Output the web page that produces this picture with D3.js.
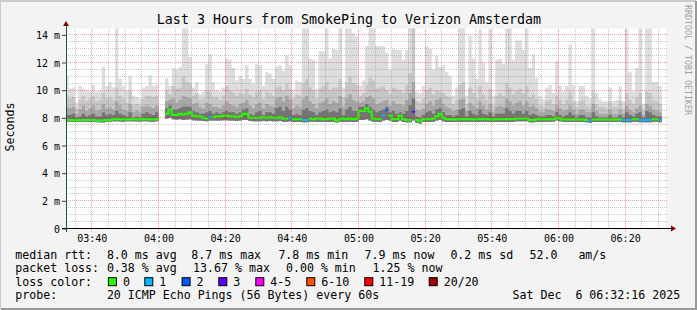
<!DOCTYPE html>
<html>
<head>
<meta charset="utf-8">
<script src="https://cdn.jsdelivr.net/npm/d3@7"></script>
<style>
    body { margin: 0; background: #f3f3f3; }
    svg { display: block; }
    text { font-family: "DejaVu Sans Mono", monospace; fill: #000; white-space: pre; }
</style>
</head>
<body>
<svg id="graph" width="697" height="310"></svg>
<script>
// one value per 1-minute step, first step starts 03:32, no data 04:00-04:02
const medianRtt = [
    7.85, 7.85, 7.83, 7.83, 7.85, 7.85, 7.85, 7.85, 7.85, 7.8,
    7.8, 7.8, 7.85, 7.85, 7.9, 7.9, 7.88, 7.88, 7.9, 7.9,
    7.9, 7.9, 7.88, 7.9, 7.9, 7.88, 7.88, 7.9, null, null,
    8.3, 8.6, 8.2, 8.2, 8.3, 8.25, 8.3, 8.4, 8.15, 8.1,
    8.1, 8.0, 7.95, 8.05, 8.05, 8.1, 8.1, 8.15, 8.15, 8.1,
    8.1, 8.05, 8.1, 8.3, 8.3, 8.0, 8.0, 8.0, 8.0, 8.05,
    8.0, 8.05, 8.0, 8.0, 8.05, 7.95, 7.95, 8.0, 7.9, 7.9,
    7.9, 7.85, 7.85, 7.95, 7.9, 7.95, 7.95, 7.9, 7.9, 7.95,
    7.95, 7.8, 7.9, 7.95, 7.9, 7.95, 7.9, 7.95, 8.5, 8.5,
    8.7, 8.45, 7.95, 7.9, 7.9, 8.15, 8.55, 8.15, 7.9, 7.9,
    8.15, 7.9, 7.85, 7.85, 8.45, 7.85, 7.75, 7.9, 7.9, 7.9,
    7.95, 8.1, 8.3, 8.0, 7.9, 7.9, 7.88, 7.9, 7.9, 7.92,
    7.9, 7.9, 7.88, 7.9, 7.9, 7.92, 7.9, 7.9, 7.88, 7.9,
    7.9, 7.9, 7.92, 7.9, 7.9, 7.95, 7.95, 7.95, 7.95, 7.85,
    7.85, 7.9, 7.9, 7.9, 7.9, 7.9, 7.9, 8.0, 7.95, 7.88,
    7.88, 7.88, 7.88, 7.88, 7.88, 7.88, 7.85, 7.8, 7.88, 7.88,
    7.88, 7.88, 7.88, 7.88, 7.88, 7.88, 7.88, 7.85, 7.85, 7.85,
    7.9, 7.9, 7.85, 7.85, 7.85, 7.85, 7.9, 7.9, 7.85
];
const minPing = [
    7.72, 7.72, 7.7, 7.7, 7.72, 7.72, 7.72, 7.7, 7.72, 7.68,
    7.68, 7.66, 7.72, 7.72, 7.75, 7.75, 7.74, 7.72, 7.75, 7.75,
    7.75, 7.74, 7.72, 7.75, 7.75, 7.72, 7.72, 7.75, null, null,
    7.95, 8.0, 7.9, 7.88, 7.9, 7.85, 7.88, 7.9, 7.82, 7.8,
    7.8, 7.78, 7.75, 7.8, 7.8, 7.8, 7.8, 7.82, 7.82, 7.8,
    7.8, 7.78, 7.8, 7.85, 7.85, 7.78, 7.76, 7.76, 7.76, 7.78,
    7.76, 7.78, 7.76, 7.76, 7.78, 7.72, 7.72, 7.75, 7.7, 7.7,
    7.7, 7.68, 7.68, 7.72, 7.72, 7.7, 7.72, 7.72, 7.7, 7.7,
    7.72, 7.66, 7.7, 7.72, 7.7, 7.72, 7.7, 7.72, 7.85, 7.85,
    7.9, 7.8, 7.72, 7.7, 7.7, 7.8, 7.85, 7.8, 7.7, 7.7,
    7.8, 7.7, 7.68, 7.68, 7.8, 7.65, 7.6, 7.7, 7.7, 7.7,
    7.72, 7.8, 7.85, 7.75, 7.7, 7.7, 7.7, 7.7, 7.7, 7.72,
    7.7, 7.7, 7.7, 7.7, 7.7, 7.72, 7.7, 7.7, 7.7, 7.7,
    7.7, 7.7, 7.72, 7.7, 7.7, 7.75, 7.75, 7.75, 7.75, 7.68,
    7.68, 7.72, 7.72, 7.72, 7.72, 7.72, 7.72, 7.8, 7.75, 7.7,
    7.7, 7.7, 7.7, 7.7, 7.7, 7.7, 7.68, 7.65, 7.7, 7.7,
    7.7, 7.7, 7.7, 7.7, 7.7, 7.7, 7.7, 7.68, 7.68, 7.68,
    7.72, 7.72, 7.68, 7.68, 7.68, 7.68, 7.72, 7.72, 7.68
];
const maxPing = [
    11.0, 10.1, 10.2, 9.1, 10.3, 10.1, 10.0, 9.9, 10.4, 9.9,
    10.0, 11.7, 10.3, 10.6, 10.2, 14.6, 10.8, 10.3, 10.0, 11.0,
    9.6, 9.5, 9.4, 10.2, 10.3, 11.1, 10.3, 10.4, null, null,
    10.9, 10.3, 11.6, 11.5, 11.7, 14.6, 14.6, 12.4, 10.2, 10.6,
    9.7, 9.9, 11.9, 12.6, 10.6, 10.0, 9.9, 10.2, 12.3, 12.2,
    11.6, 10.7, 11.0, 10.8, 11.8, 10.8, 10.5, 11.9, 11.8, 10.3,
    11.3, 11.2, 10.8, 11.7, 11.8, 11.4, 12.5, 11.8, 10.0, 10.7,
    10.6, 14.6, 14.6, 12.3, 12.2, 10.1, 12.8, 12.8, 14.6, 12.3,
    13.0, 12.9, 14.6, 10.2, 14.6, 14.6, 14.1, 13.9, 10.3, 10.7,
    13.2, 14.6, 14.6, 13.2, 13.2, 13.2, 12.7, 11.5, 13.0, 12.9,
    12.9, 12.2, 12.9, 14.6, 14.6, 9.9, 9.8, 10.3, 13.2, 13.0,
    11.5, 12.5, 11.7, 11.8, 11.3, 11.0, 9.6, 10.2, 14.6, 14.6,
    9.6, 13.9, 12.3, 10.8, 14.4, 12.0, 10.6, 14.4, 9.6, 12.2,
    12.3, 11.9, 14.6, 14.6, 12.2, 13.6, 13.6, 12.9, 14.6, 11.6,
    12.6, 10.9, 9.6, 9.35, 10.2, 10.4, 9.8, 12.1, 10.3, 9.9,
    10.3, 13.3, 10.4, 9.2, 10.3, 10.3, 9.6, 9.4, 14.6, 9.8,
    9.35, 9.2, 9.2, 10.2, 9.2, 9.3, 10.3, 9.2, 14.6, 11.3,
    9.9, 11.6, 14.6, 9.0, 14.6, 14.6, 10.6, 10.6, 10.3
];
const ping90 = [
    9.6, 9.4, 9.5, 8.7, 9.3, 9.6, 9.2, 9.4, 9.6, 9.2,
    9.3, 9.8, 9.4, 9.5, 9.3, 10.2, 9.6, 9.4, 9.1, 9.9,
    8.9, 9.0, 8.9, 9.4, 9.6, 9.6, 9.5, 9.6, null, null,
    10.0, 9.7, 10.3, 10.1, 10.2, 11.0, 10.6, 10.5, 9.6, 9.8,
    9.3, 9.4, 10.0, 9.9, 9.5, 9.5, 9.3, 9.6, 10.3, 10.0,
    9.8, 9.6, 9.8, 9.7, 10.1, 9.7, 9.5, 9.9, 10.0, 9.4,
    9.9, 9.8, 9.6, 10.2, 10.3, 10.0, 10.5, 10.1, 9.4, 9.7,
    9.6, 10.5, 10.8, 10.2, 10.0, 9.4, 10.1, 10.3, 10.6, 10.0,
    10.2, 10.2, 10.8, 9.5, 10.6, 11.0, 10.5, 10.4, 9.6, 9.8,
    10.4, 10.9, 10.7, 10.1, 10.2, 10.3, 10.0, 9.7, 10.2, 10.1,
    10.0, 9.8, 10.4, 11.2, 14.6, 9.2, 9.1, 9.4, 10.0, 10.2,
    9.7, 10.0, 9.9, 9.8, 9.6, 9.5, 9.0, 9.3, 10.4, 10.6,
    9.0, 10.2, 9.8, 9.4, 10.3, 9.7, 9.3, 10.1, 8.9, 9.6,
    9.8, 9.6, 10.5, 10.2, 9.7, 10.0, 10.1, 9.8, 10.3, 9.5,
    9.7, 9.4, 8.9, 8.8, 9.2, 9.3, 9.0, 9.6, 9.3, 9.0,
    9.3, 9.9, 9.2, 8.8, 9.2, 9.3, 8.9, 8.8, 9.9, 9.0,
    8.8, 8.8, 8.7, 9.2, 8.8, 8.8, 9.2, 8.7, 9.8, 9.3,
    9.0, 9.5, 9.8, 8.6, 9.9, 9.8, 9.3, 9.2, 9.0
];
const ping75 = [
    8.8, 8.7, 8.8, 8.3, 8.6, 8.9, 8.5, 8.7, 8.9, 8.5,
    8.6, 9.0, 8.7, 8.8, 8.6, 9.2, 8.9, 8.6, 8.5, 9.0,
    8.4, 8.5, 8.4, 8.8, 8.9, 8.8, 8.7, 8.9, null, null,
    9.2, 9.3, 9.4, 9.1, 9.3, 9.6, 9.5, 9.4, 9.0, 9.1,
    8.8, 8.7, 9.1, 9.0, 8.8, 8.8, 8.7, 8.9, 9.2, 9.0,
    8.9, 8.8, 9.0, 9.1, 9.3, 8.9, 8.7, 9.0, 9.1, 8.7,
    9.0, 8.9, 8.8, 9.4, 9.5, 9.2, 9.6, 9.3, 8.7, 8.9,
    8.8, 9.4, 9.6, 9.2, 9.0, 8.7, 9.1, 9.2, 9.4, 9.0,
    9.2, 9.1, 9.6, 8.8, 9.4, 9.7, 9.3, 9.2, 9.1, 9.2,
    9.5, 9.6, 9.4, 9.0, 9.1, 9.2, 9.3, 8.9, 9.2, 9.0,
    9.0, 8.9, 9.3, 9.8, 10.6, 8.6, 8.5, 8.7, 9.0, 9.2,
    8.9, 9.3, 9.4, 9.0, 8.8, 8.7, 8.5, 8.6, 9.3, 9.4,
    8.5, 9.1, 8.9, 8.7, 9.2, 8.9, 8.6, 9.0, 8.4, 8.8,
    8.9, 8.8, 9.4, 9.2, 8.9, 9.1, 9.2, 8.9, 9.2, 8.8,
    8.9, 8.7, 8.4, 8.4, 8.6, 8.6, 8.5, 8.9, 8.7, 8.5,
    8.6, 8.9, 8.6, 8.3, 8.6, 8.6, 8.4, 8.4, 9.0, 8.5,
    8.3, 8.3, 8.3, 8.6, 8.3, 8.3, 8.6, 8.3, 8.9, 8.6,
    8.4, 8.7, 8.9, 8.2, 9.0, 8.9, 8.6, 8.5, 8.4
];
const ping60 = [
    8.2, 8.2, 8.3, 8.0, 8.1, 8.3, 8.1, 8.2, 8.3, 8.1,
    8.1, 8.4, 8.2, 8.3, 8.2, 8.5, 8.3, 8.2, 8.1, 8.4,
    8.0, 8.1, 8.0, 8.3, 8.4, 8.3, 8.2, 8.4, null, null,
    8.7, 8.9, 8.6, 8.6, 8.7, 8.8, 8.8, 8.8, 8.5, 8.4,
    8.3, 8.3, 8.4, 8.5, 8.3, 8.4, 8.3, 8.4, 8.5, 8.4,
    8.4, 8.3, 8.4, 8.6, 8.7, 8.3, 8.2, 8.4, 8.5, 8.2,
    8.4, 8.4, 8.3, 8.7, 8.8, 8.5, 8.8, 8.6, 8.2, 8.3,
    8.2, 8.6, 8.7, 8.5, 8.4, 8.2, 8.4, 8.5, 8.6, 8.4,
    8.5, 8.4, 8.7, 8.2, 8.6, 8.8, 8.5, 8.5, 8.8, 8.8,
    9.0, 8.8, 8.6, 8.4, 8.5, 8.6, 8.8, 8.4, 8.5, 8.3,
    8.4, 8.3, 8.5, 8.9, 9.4, 8.1, 8.0, 8.2, 8.4, 8.5,
    8.3, 8.6, 8.7, 8.4, 8.2, 8.2, 8.1, 8.2, 8.6, 8.7,
    8.1, 8.5, 8.3, 8.2, 8.6, 8.3, 8.2, 8.4, 8.1, 8.3,
    8.3, 8.3, 8.7, 8.5, 8.3, 8.5, 8.5, 8.3, 8.5, 8.2,
    8.3, 8.2, 8.1, 8.1, 8.2, 8.2, 8.1, 8.4, 8.2, 8.1,
    8.2, 8.4, 8.2, 8.0, 8.2, 8.2, 8.0, 8.0, 8.4, 8.1,
    8.0, 8.0, 8.0, 8.2, 8.0, 8.0, 8.2, 8.0, 8.4, 8.2,
    8.1, 8.3, 8.4, 8.0, 8.5, 8.4, 8.2, 8.1, 8.1
];
// lost pings out of 20 per step
const pingLoss = [
    0, 0, 0, 0, 0, 0, 0, 0, 0, 0,
    0, 0, 0, 0, 0, 0, 0, 0, 0, 0,
    0, 0, 0, 0, 0, 0, 0, 0, null, null,
    0, 0, 0, 0, 0, 0, 0, 0, 0, 0,
    0, 0, 0, 1, 0, 0, 0, 0, 0, 0,
    0, 0, 0, 0, 0, 0, 0, 0, 0, 0,
    0, 0, 0, 0, 0, 0, 0, 1, 0, 0,
    0, 1, 1, 0, 0, 0, 0, 0, 0, 0,
    0, 0, 0, 0, 0, 0, 0, 0, 0, 0,
    0, 0, 0, 0, 0, 1, 2, 0, 0, 0,
    0, 0, 0, 0, 3, 0, 0, 0, 0, 0,
    0, 0, 0, 0, 0, 0, 0, 0, 0, 0,
    0, 0, 0, 0, 0, 0, 0, 0, 0, 0,
    0, 0, 0, 0, 0, 0, 0, 0, 0, 0,
    0, 0, 0, 0, 0, 0, 0, 0, 0, 0,
    0, 0, 0, 0, 0, 0, 0, 1, 0, 0,
    0, 0, 0, 0, 0, 0, 0, 1, 1, 1,
    0, 0, 1, 1, 1, 1, 0, 0, 1
];

const yTickValues = [0, 2, 4, 6, 8, 10, 12, 14],
    yTickLabels = ["0", "2 m", "4 m", "6 m", "8 m", "10 m", "12 m", "14 m"],
    timeTickLabels = ["03:40", "04:00", "04:20", "04:40", "05:00", "05:20", "05:40", "06:00", "06:20"];

const lossClassLabels = ["0", "1", "2", "3", "4-5", "6-10", "11-19", "20/20"],
    lossClassColors = ["#26ff00", "#00b8ff", "#0059ff", "#5e00ff", "#ff00ff", "#ff5500", "#ff0000", "#a10000"],
    lossClassMax = [0, 1, 2, 3, 5, 10, 19, 20];

const rttStats = ["8.0 ms avg", "8.7 ms max", "7.8 ms min", "7.9 ms now", "0.2 ms sd", "52.0", "am/s"],
    lossStats = ["0.38 % avg", "13.67 % max", "0.00 % min", "1.25 % now"],
    probeText = "20 ICMP Echo Pings (56 Bytes) every 60s",
    stampText = "Sat Dec  6 06:32:16 2025";

// layout
const svg = d3.select("#graph"),
    width = 697,
    height = 310,
    plot = { left: 66, right: 666, top: 28.5, bottom: 228.5 },
    legendFont = "11.6px",
    rttStatX = [106.9, 191.3, 278.4, 364.6, 450.4, 529.5, 578.4],
    lossStatX = [106.9, 193.1, 286, 372.6],
    lossLabelX = [122.9, 159.3, 196.6, 233.3, 270.3, 321.3, 379.3, 443.7],
    rowY = [258.5, 272, 285.7, 299.4];

const startTime = new Date(2025, 11, 6, 3, 32, 16),
    endTime = new Date(2025, 11, 6, 6, 32, 16),
    firstStep = new Date(2025, 11, 6, 3, 32, 0);

const x = d3.scaleTime().domain([startTime, endTime]).range([plot.left, plot.right]);
const y = d3.scaleLinear().domain([0, 14.46]).range([plot.bottom, plot.top]);

// background + frame
svg.append("rect").attr("width", width).attr("height", height).attr("fill", "#f3f3f3");
svg.append("path").attr("d", `M0,${height - 1} V1 H${width - 1}`)
    .attr("fill", "none").attr("stroke", "#cbcbcb").attr("stroke-width", 2);
svg.append("path").attr("d", `M1,${height - 1} H${width - 1} V1`)
    .attr("fill", "none").attr("stroke", "#999999").attr("stroke-width", 2);

svg.append("rect")
    .attr("x", plot.left).attr("y", plot.top)
    .attr("width", plot.right - plot.left).attr("height", plot.bottom - plot.top)
    .attr("fill", "#ffffff");

svg.append("clipPath").attr("id", "plotClip")
    .append("rect")
    .attr("x", plot.left).attr("y", plot.top)
    .attr("width", plot.right - plot.left).attr("height", plot.bottom - plot.top);

// steps as pairs of points so every minute is drawn flat
const steps = medianRtt.map(function (m, i) {
    return {
        t0: d3.timeMinute.offset(firstStep, i),
        t1: d3.timeMinute.offset(firstStep, i + 1),
        med: m, lo: minPing[i], max: maxPing[i],
        p90: ping90[i], p75: ping75[i], p60: ping60[i], loss: pingLoss[i]
    };
});
const stepPoints = steps.flatMap(function (s) {
    return [{ t: s.t0, s: s }, { t: s.t1, s: s }];
});

function lossClass(loss) {
    return lossClassMax.findIndex(function (m) { return loss <= m; });
}

const plotG = svg.append("g").attr("clip-path", "url(#plotClip)");

const smokeBands = [
    { key: "max", color: "#dddddd" },
    { key: "p90", color: "#c6c6c6" },
    { key: "p75", color: "#a6a6a6" },
    { key: "p60", color: "#747474" }
];

smokeBands.forEach(function (band) {
    const area = d3.area()
        .defined(function (d) { return d.s.med !== null; })
        .x(function (d) { return x(d.t); })
        .y0(function (d) { return y(d.s.lo); })
        .y1(function (d) { return y(d.s[band.key]); });
    plotG.append("path")
        .datum(stepPoints)
        .attr("d", area)
        .attr("fill", band.color);
});

// grid (dotted, drawn over the smoke like rrdtool)
const gridG = svg.append("g").attr("shape-rendering", "crispEdges");
const minorColor = "rgba(120,120,120,0.38)",
    majorColor = "rgba(235,0,0,0.36)";
const minorTimes = d3.timeMinute.every(5).range(startTime, endTime),
    majorTimes = timeTickLabels.map(function (l) {
        const p = l.split(":");
        return new Date(2025, 11, 6, +p[0], +p[1]);
    });

gridG.selectAll(".vminor")
    .data(minorTimes.filter(function (t) { return t.getMinutes() % 20 !== 0; }))
    .enter().append("line")
    .attr("x1", function (d) { return x(d); }).attr("x2", function (d) { return x(d); })
    .attr("y1", plot.top).attr("y2", plot.bottom)
    .attr("stroke", minorColor).attr("stroke-dasharray", "1,1");

gridG.selectAll(".hminor")
    .data(d3.range(0.5, 14.5, 0.5).filter(function (v) { return v % 2 !== 0; }))
    .enter().append("line")
    .attr("x1", plot.left).attr("x2", plot.right + 2)
    .attr("y1", function (d) { return y(d); }).attr("y2", function (d) { return y(d); })
    .attr("stroke", minorColor).attr("stroke-dasharray", "1,1");

gridG.selectAll(".vmajor")
    .data(majorTimes)
    .enter().append("line")
    .attr("x1", function (d) { return x(d); }).attr("x2", function (d) { return x(d); })
    .attr("y1", plot.top).attr("y2", plot.bottom + 3)
    .attr("stroke", majorColor).attr("stroke-dasharray", "1,1");

gridG.selectAll(".hmajor")
    .data(yTickValues.slice(1))
    .enter().append("line")
    .attr("x1", plot.left).attr("x2", plot.right + 2)
    .attr("y1", function (d) { return y(d); }).attr("y2", function (d) { return y(d); })
    .attr("stroke", majorColor).attr("stroke-dasharray", "1,1");

// median line, one path per loss colour
lossClassColors.forEach(function (color, k) {
    const line = d3.line()
        .defined(function (d) { return d.s.med !== null && lossClass(d.s.loss) === k; })
        .x(function (d) { return x(d.t); })
        .y(function (d) { return y(d.s.med); });
    plotG.append("path")
        .datum(stepPoints)
        .attr("d", line)
        .attr("fill", "none")
        .attr("stroke", color)
        .attr("stroke-width", 2);
});

// axes
const yAxis = d3.axisLeft(y)
    .tickValues(yTickValues)
    .tickFormat(function (d, i) { return yTickLabels[i]; })
    .tickSize(4)
    .tickPadding(2);
const yAxisG = svg.append("g").attr("transform", `translate(${plot.left},0)`).call(yAxis);
yAxisG.select(".domain").remove();
yAxisG.selectAll("line").attr("stroke", "#2c4d43");
yAxisG.selectAll("text").attr("font-size", "10px").attr("font-family", null).attr("dy", "0.37em");

const xAxis = d3.axisBottom(x)
    .tickValues(majorTimes)
    .tickFormat(function (d, i) { return timeTickLabels[i]; })
    .tickSize(0)
    .tickPadding(6.5);
const xAxisG = svg.append("g").attr("transform", `translate(0,${plot.bottom})`).call(xAxis);
xAxisG.select(".domain").remove();
xAxisG.selectAll("text").attr("font-size", "10px").attr("font-family", null);

svg.append("line")
    .attr("x1", plot.left - 4).attr("x2", plot.right + 6)
    .attr("y1", plot.bottom).attr("y2", plot.bottom)
    .attr("stroke", "#000").attr("shape-rendering", "crispEdges");
svg.append("line")
    .attr("x1", plot.left).attr("x2", plot.left)
    .attr("y1", plot.bottom + 3).attr("y2", plot.top - 4)
    .attr("stroke", "#2c4d43").attr("shape-rendering", "crispEdges");
svg.append("path")
    .attr("d", `M${plot.left - 3},${plot.top - 2.5} L${plot.left + 3},${plot.top - 2.5} L${plot.left},${plot.top - 7.5} Z`)
    .attr("fill", "#7f0000");
svg.append("path")
    .attr("d", `M${plot.right + 5},${plot.bottom - 3} L${plot.right + 5},${plot.bottom + 3} L${plot.right + 10},${plot.bottom} Z`)
    .attr("fill", "#7f0000");

// titles
svg.append("text")
    .attr("x", 349).attr("y", 24)
    .attr("text-anchor", "middle")
    .attr("font-size", "13.3px")
    .text("Last 3 Hours from SmokePing to Verizon Amsterdam");

svg.append("text")
    .attr("transform", "translate(14,127) rotate(-90)")
    .attr("text-anchor", "middle")
    .attr("font-size", legendFont)
    .text("Seconds");

svg.append("text")
    .attr("transform", "translate(684.5,5) rotate(90)")
    .attr("font-size", "8.3px")
    .style("fill", "#a0a0a0")
    .text("RRDTOOL / TOBI OETIKER");

// legend
const legendG = svg.append("g").attr("font-size", legendFont);

legendG.append("text").attr("x", 15.3).attr("y", rowY[0]).text("median rtt:");
legendG.selectAll(".rtt").data(rttStats).enter().append("text")
    .attr("x", function (d, i) { return rttStatX[i]; }).attr("y", rowY[0])
    .text(function (d) { return d; });

legendG.append("text").attr("x", 15.3).attr("y", rowY[1]).text("packet loss:");
legendG.selectAll(".loss").data(lossStats).enter().append("text")
    .attr("x", function (d, i) { return lossStatX[i]; }).attr("y", rowY[1])
    .text(function (d) { return d; });

legendG.append("text").attr("x", 15.3).attr("y", rowY[2]).text("loss color:");
legendG.selectAll(".swatch").data(lossClassColors).enter().append("rect")
    .attr("x", function (d, i) { return lossLabelX[i] - 14.5; })
    .attr("y", rowY[2] - 8)
    .attr("width", 8).attr("height", 8)
    .attr("fill", function (d) { return d; })
    .attr("stroke", "#000").attr("stroke-width", 1);
legendG.selectAll(".lossLabel").data(lossClassLabels).enter().append("text")
    .attr("x", function (d, i) { return lossLabelX[i]; }).attr("y", rowY[2])
    .text(function (d) { return d; });

legendG.append("text").attr("x", 15.3).attr("y", rowY[3]).text("probe:");
legendG.append("text").attr("x", 106.9).attr("y", rowY[3]).text(probeText);
legendG.append("text").attr("x", 512.6).attr("y", rowY[3]).text(stampText);
</script>
</body>
</html>
